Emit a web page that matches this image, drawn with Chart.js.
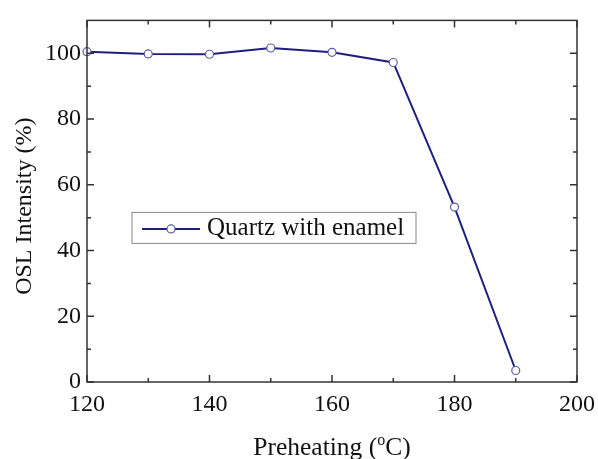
<!DOCTYPE html>
<html>
<head>
<meta charset="utf-8">
<script src="https://cdn.jsdelivr.net/npm/chart.js@4"></script>
<style>
  html, body { margin:0; padding:0; background:#fff; }
  #wrap { width:598px; height:459px; }
</style>
</head>
<body>
<div id="wrap"><canvas id="myChart"></canvas></div>
<script>
// data
const preheat = [120, 130, 140, 150, 160, 170, 180, 190];
const oslIntensity = [100.5, 99.8, 99.7, 101.6, 100.3, 97.2, 53.2, 3.5];
const xTicks = [120, 140, 160, 180, 200];
const yTicks = [0, 20, 40, 60, 80, 100];
const xMinor = [130, 150, 170, 190];
const yMinor = [10, 30, 50, 70, 90];
const seriesName = "Quartz with enamel";

const FONT = "'Liberation Serif', 'Times New Roman', serif";
const lineColor = "#1f1f80";
const markerEdge = "#5a5aae";

// frame, inward ticks, titles and legend
const framePlugin = {
  id: "frame",
  afterDraw(chart) {
    const ctx = chart.ctx, a = chart.chartArea;
    const xs = chart.scales.x, ys = chart.scales.y;
    ctx.save();
    ctx.strokeStyle = "#333";
    ctx.lineWidth = 1.5;
    ctx.strokeRect(a.left, a.top, a.right - a.left, a.bottom - a.top);
    ctx.beginPath();
    xTicks.forEach(v => {
      let p = xs.getPixelForValue(v);
      ctx.moveTo(p, a.bottom); ctx.lineTo(p, a.bottom - 7);
      ctx.moveTo(p, a.top); ctx.lineTo(p, a.top + 7);
    });
    xMinor.forEach(v => {
      let p = xs.getPixelForValue(v);
      ctx.moveTo(p, a.bottom); ctx.lineTo(p, a.bottom - 4);
      ctx.moveTo(p, a.top); ctx.lineTo(p, a.top + 4);
    });
    yTicks.forEach(v => {
      let p = ys.getPixelForValue(v);
      ctx.moveTo(a.left, p); ctx.lineTo(a.left + 7, p);
      ctx.moveTo(a.right, p); ctx.lineTo(a.right - 7, p);
    });
    yMinor.forEach(v => {
      let p = ys.getPixelForValue(v);
      ctx.moveTo(a.left, p); ctx.lineTo(a.left + 4, p);
      ctx.moveTo(a.right, p); ctx.lineTo(a.right - 4, p);
    });
    ctx.stroke();

    // axis titles
    ctx.fillStyle = "#111";
    ctx.font = "24px " + FONT;
    ctx.textBaseline = "middle";
    ctx.textAlign = "center";
    ctx.save();
    ctx.translate(25, (a.top + a.bottom) / 2 + 5);
    ctx.rotate(-Math.PI / 2);
    ctx.fillText("OSL Intensity (%)", 0, 0);
    ctx.restore();

    let t1 = "Preheating (", t2 = "C)";
    ctx.textAlign = "left";
    ctx.textBaseline = "alphabetic";
    ctx.font = "25.5px " + FONT;
    let w1 = ctx.measureText(t1).width;
    ctx.font = "16px " + FONT;
    let wo = ctx.measureText("o").width;
    ctx.font = "25.5px " + FONT;
    let w2 = ctx.measureText(t2).width;
    let x0 = (a.left + a.right) / 2 - (w1 + wo + w2) / 2;
    let base = 455;
    ctx.fillText(t1, x0, base);
    ctx.font = "16px " + FONT;
    ctx.fillText("o", x0 + w1, base - 10);
    ctx.font = "25.5px " + FONT;
    ctx.fillText(t2, x0 + w1 + wo, base);

    // legend box
    let lx = a.left + 45, ly = a.top + 192, lw = 284, lh = 31;
    ctx.fillStyle = "#fff";
    ctx.fillRect(lx, ly, lw, lh);
    ctx.strokeStyle = "#888";
    ctx.lineWidth = 1;
    ctx.strokeRect(lx, ly, lw, lh);
    let cy = ly + lh / 2 + 1;
    ctx.strokeStyle = lineColor;
    ctx.lineWidth = 2;
    ctx.beginPath();
    ctx.moveTo(lx + 10, cy); ctx.lineTo(lx + 68, cy);
    ctx.stroke();
    ctx.beginPath();
    ctx.arc(lx + 39, cy, 4, 0, Math.PI * 2);
    ctx.fillStyle = "#fff"; ctx.fill();
    ctx.strokeStyle = markerEdge; ctx.lineWidth = 1.2; ctx.stroke();
    ctx.fillStyle = "#111";
    ctx.font = "25px " + FONT;
    ctx.textBaseline = "middle";
    ctx.fillText(seriesName, lx + 75, cy);
    ctx.restore();
  }
};

var ctx = document.getElementById('myChart');
var chart = new Chart(ctx, {
  type: 'line',
  data: {
    datasets: [{
      label: seriesName,
      data: preheat.map((x, i) => ({ x: x, y: oslIntensity[i] })),
      borderColor: lineColor,
      borderWidth: 2,
      pointRadius: 4,
      pointBorderWidth: 1.2,
      pointBackgroundColor: '#fff',
      pointBorderColor: markerEdge,
      tension: 0,
      clip: false
    }]
  },
  options: {
    responsive: true,
    maintainAspectRatio: false,
    animation: false,
    events: [],
    layout: { padding: { top: 15, right: 21, left: 0, bottom: 0 } },
    plugins: { legend: { display: false }, tooltip: { enabled: false } },
    scales: {
      x: {
        type: 'linear', min: 120, max: 200,
        grid: { display: false, drawTicks: false },
        border: { display: false },
        ticks: { stepSize: 20, padding: 8, maxRotation: 0, minRotation: 0, color: '#111', font: { family: FONT, size: 24 } },
        afterFit: s => { s.height = 459 - 382; s.paddingRight = 0; s.paddingLeft = 0; }
      },
      y: {
        min: 0, max: 110,
        grid: { display: false, drawTicks: false },
        border: { display: false },
        ticks: { stepSize: 20, includeBounds: false, padding: 6, color: '#111', font: { family: FONT, size: 24 } },
        afterFit: s => { s.width = 87; }
      }
    }
  },
  plugins: [framePlugin]
});
</script>
</body>
</html>
